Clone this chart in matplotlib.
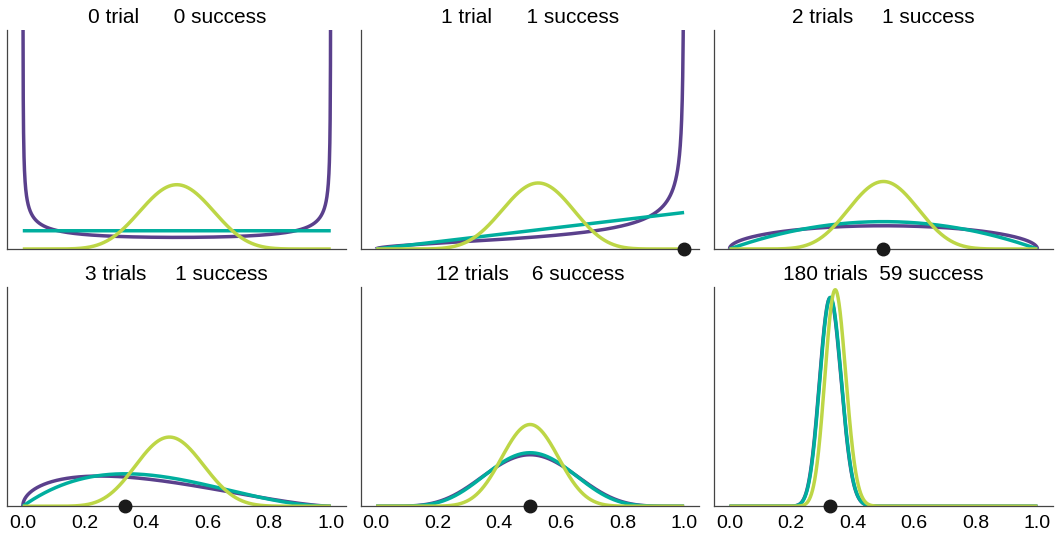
import math

import matplotlib
matplotlib.use("Agg")
import matplotlib.pyplot as plt
import numpy as np

plt.rcParams["font.family"] = ["Liberation Sans", "DejaVu Sans"]

# observed data per panel
n_trials = [0, 1, 2, 3, 12, 180]
n_success = [0, 1, 1, 1, 6, 59]
trial_words = ["trial", "trial", "trials", "trials", "trials", "trials"]
title_gaps = [6, 6, 5, 5, 4, 2]

# Beta priors (alpha, beta) and their line colours
priors = [(0.5, 0.5), (1.0, 1.0), (10.0, 10.0)]
prior_colors = ["#5a408c", "#00ae9e", "#bdd646"]


def beta_pdf(x, a, b):
    log_norm = math.lgamma(a + b) - math.lgamma(a) - math.lgamma(b)
    with np.errstate(divide="ignore", invalid="ignore"):
        return np.exp(log_norm) * x ** (a - 1) * (1 - x) ** (b - 1)


x = np.linspace(0, 1, 2000)

fig, axes = plt.subplots(2, 3, figsize=(10.56, 5.34), dpi=100,
                         sharex=True, sharey=True)
fig.subplots_adjust(left=0.007, right=0.997, top=0.944, bottom=0.052,
                    wspace=0.043, hspace=0.174)

ymax = 0
for ax, n, k, word, gap in zip(axes.flat, n_trials, n_success,
                               trial_words, title_gaps):
    for (a, b), col in zip(priors, prior_colors):
        pa, pb = a + k, b + n - k
        y = beta_pdf(x, pa, pb)
        ax.plot(x, y, color=col, lw=2.5, solid_capstyle="butt")
        # only bounded densities set the shared y range
        if pa >= 1 and pb >= 1:
            ymax = max(ymax, np.nanmax(y))
    if n > 0:
        ax.plot(k / n, 0, "o", color="#1a1a1a", ms=9, clip_on=False,
                zorder=5)
    ax.set_title(f"{n} {word}" + " " * gap + f"{k} success",
                 fontsize=15, pad=5)
    for side in ["top", "right"]:
        ax.spines[side].set_visible(False)
    for side in ["left", "bottom"]:
        ax.spines[side].set_color("#444444")
        ax.spines[side].set_linewidth(0.9)
    ax.set_yticks([])
    ax.tick_params(axis="x", length=0, pad=6, labelsize=14)

axes[0, 0].set_ylim(0, ymax * 1.012)
axes[0, 0].set_xticks([0.0, 0.2, 0.4, 0.6, 0.8, 1.0])

plt.savefig("out.png", dpi=100)
plt.close()
